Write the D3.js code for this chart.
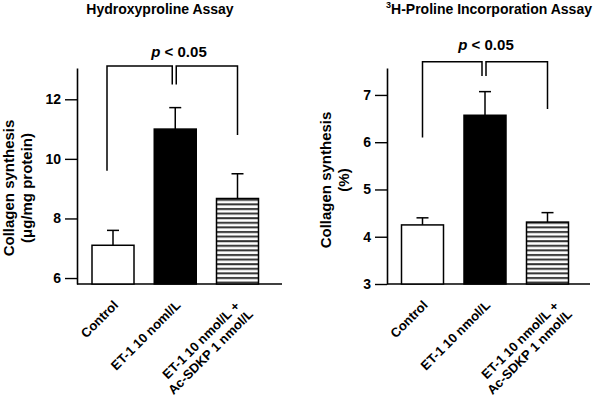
<!DOCTYPE html>
<html>
<head>
<meta charset="utf-8">
<script src="https://cdn.jsdelivr.net/npm/d3@7"></script>
<style>
  body { margin: 0; background: #fff; }
  svg { display: block; font-family: "Liberation Sans", Arial, sans-serif; }
  text { fill: #000; }
</style>
</head>
<body>
<div id="chart"></div>
<script>
// data
const groups = ['Control', 'ET-1', 'ET-1+Ac-SDKP'];
const hypLabels = [['Control'], ['ET-1 10 noml/L'], ['ET-1 10 nmol/L +', 'Ac-SDKP 1 nmol/L']];
const proLabels = [['Control'], ['ET-1 10 nmol/L'], ['ET-1 10 nmol/L +', 'Ac-SDKP 1 nmol/L']];
const hypMeans = [7.1, 11.0, 8.67];
const hypErr = [0.5, 0.72, 0.83];
const proMeans = [4.25, 6.57, 4.31];
const proErr = [0.15, 0.5, 0.2];
const hypTicks = [6, 8, 10, 12];
const proTicks = [3, 4, 5, 6, 7];
const fills = ['#fff', '#000', 'url(#hatch)'];

const width = 600, height = 401;
const svg = d3.select('#chart').append('svg')
  .attr('width', width).attr('height', height);

// horizontal line pattern for third bar
const pat = svg.append('defs').append('pattern')
  .attr('id', 'hatch').attr('patternUnits', 'userSpaceOnUse')
  .attr('width', 8).attr('height', 4.6);
pat.append('rect').attr('width', 8).attr('height', 4.6).attr('fill', '#fff');
pat.append('rect').attr('y', 1).attr('width', 8).attr('height', 2).attr('fill', '#333');

function panel(o) {
  const g = svg.append('g');
  const y = d3.scaleLinear().domain(o.domain).range([284, 68]);
  const x = d3.scalePoint().domain(groups).range(o.centers);
  const bw = 42;
  const base = y(o.domain[0]);

  // y axis
  const ax = g.append('g').attr('transform', `translate(${o.axisX},0)`)
    .call(d3.axisLeft(y).tickValues(o.ticks).tickFormat(d3.format('d'))
      .tickSize(12).tickSizeOuter(0).tickPadding(4));
  ax.select('.domain').attr('stroke-width', 1.6);
  ax.selectAll('.tick line').attr('stroke-width', 1.4);
  ax.selectAll('.tick text').attr('font-size', 14).attr('font-weight', 'bold').attr('fill', '#000');

  // x axis line
  g.append('line').attr('x1', o.axisX).attr('x2', o.axisEnd)
    .attr('y1', base).attr('y2', base).attr('stroke', '#000').attr('stroke-width', 1.6);

  // error bars
  g.selectAll('.err').data(o.means).join('g').each(function (d, i) {
    const cx = x(groups[i]);
    const s = d3.select(this);
    s.append('line').attr('x1', cx).attr('x2', cx)
      .attr('y1', y(d)).attr('y2', y(d + o.err[i])).attr('stroke', '#000').attr('stroke-width', 1.5);
    s.append('line').attr('x1', cx - 6).attr('x2', cx + 6)
      .attr('y1', y(d + o.err[i])).attr('y2', y(d + o.err[i])).attr('stroke', '#000').attr('stroke-width', 1.5);
  });

  // bars
  g.selectAll('.bar').data(o.means).join('rect')
    .attr('x', (d, i) => x(groups[i]) - bw / 2)
    .attr('y', d => y(d))
    .attr('width', bw)
    .attr('height', d => base - y(d))
    .attr('fill', (d, i) => fills[i])
    .attr('stroke', '#000').attr('stroke-width', 1.5);

  // significance bracket
  const b = o.bracket;
  const c1 = x(groups[0]) + b.off, c2 = x(groups[1]), c3 = x(groups[2]);
  const path = d3.path();
  path.moveTo(c1, y(b.left)); path.lineTo(c1, y(b.top));
  path.lineTo(c2 - b.gap, y(b.top)); path.lineTo(c2 - b.gap, y(b.inner));
  path.moveTo(c2 + b.gap - 2, y(b.inner)); path.lineTo(c2 + b.gap - 2, y(b.top));
  path.lineTo(c3, y(b.top)); path.lineTo(c3, y(b.right));
  g.append('path').attr('d', path.toString()).attr('fill', 'none')
    .attr('stroke', '#000').attr('stroke-width', 1.5);

  const pt = g.append('text').attr('x', b.px).attr('y', b.py)
    .attr('text-anchor', 'middle').attr('font-size', 15).attr('font-weight', 'bold');
  pt.append('tspan').attr('font-style', 'italic').text('p');
  pt.append('tspan').text(' < 0.05');

  // title
  const t = g.append('text').attr('x', o.titleX).attr('y', 14)
    .attr('text-anchor', 'middle').attr('font-size', 14).attr('font-weight', 'bold');
  if (o.sup) t.append('tspan').attr('font-size', 9).attr('dy', -6).text(o.sup);
  t.append('tspan').attr('dy', o.sup ? 6 : 0).text(o.title);

  // y label
  const yl = g.append('text').attr('transform', `translate(${o.ylabX},${o.ylabY}) rotate(-90)`)
    .attr('text-anchor', 'middle').attr('font-size', 15).attr('font-weight', 'bold');
  o.ylab.forEach((l, i) => yl.append('tspan').attr('x', 0).attr('dy', i ? 18 : 0).text(l));

  // category labels
  o.labels.forEach((lines, i) => {
    const multi = lines.length > 1;
    const dx = multi ? o.multiDx : 6, dy = multi ? 23 : 22;
    const tx = g.append('text')
      .attr('transform', `translate(${x(groups[i]) + dx},${base + dy}) rotate(-45)`)
      .attr('text-anchor', 'end').attr('font-size', 13).attr('font-weight', 'bold');
    lines.forEach((l, j) => tx.append('tspan').attr('x', j * 4).attr('dy', j ? 15 : 0).text(l));
  });
}

panel({
  domain: [5.8, 13.05], ticks: hypTicks, means: hypMeans, err: hypErr,
  centers: [113, 237.5], axisX: 77, axisEnd: 282, labels: hypLabels, multiDx: 3,
  title: 'Hydroxyproline Assay', titleX: 160,
  ylab: ['Collagen synthesis', '(μg/mg protein)'], ylabX: 14, ylabY: 188,
  bracket: { off: -6, top: 13.12, left: 9.6, inner: 12.5, right: 10.8, gap: 3, px: 179, py: 57 }
});

panel({
  domain: [3, 7.57], ticks: proTicks, means: proMeans, err: proErr,
  centers: [422.5, 547.5], axisX: 387, axisEnd: 590, labels: proLabels, multiDx: 12,
  title: 'H-Proline Incorporation Assay', sup: '3', titleX: 489,
  ylab: ['Collagen synthesis', '(%)'], ylabX: 331, ylabY: 180,
  bracket: { off: 0, top: 7.7, left: 6.1, inner: 7.4, right: 6.7, gap: 3, px: 486, py: 50 }
});
</script>
</body>
</html>
